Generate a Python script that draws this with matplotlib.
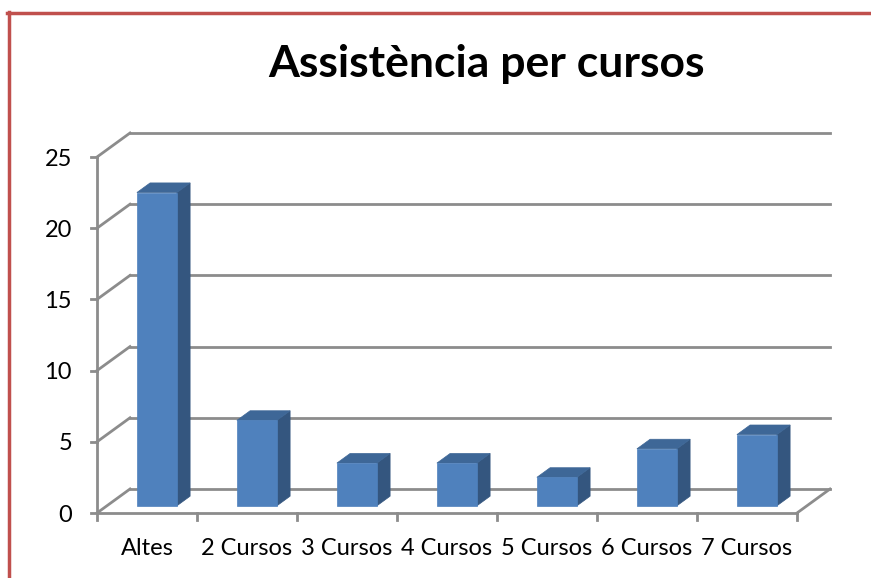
import numpy as np
import matplotlib
matplotlib.use("Agg")
import matplotlib.pyplot as plt
from matplotlib.patches import Polygon
from matplotlib.lines import Line2D
from matplotlib.transforms import IdentityTransform

# dades del gràfic
categories = ["Altes", "2 Cursos", "3 Cursos", "4 Cursos", "5 Cursos", "6 Cursos", "7 Cursos"]
values = [22, 6, 3, 3, 2, 4, 5]
yticks = [0, 5, 10, 15, 20, 25]

plt.rcParams["font.family"] = ["Lato", "DejaVu Sans"]

fig = plt.figure(figsize=(8.71, 5.78), dpi=100)
ax = fig.add_axes([97 / 871, 65 / 578, 700 / 871, 356 / 578])
ax.set_xlim(0, len(categories))
ax.set_ylim(0, 25)
for s in ax.spines.values():
    s.set_visible(False)
ax.set_xticks(np.arange(len(categories)) + 0.5, categories, fontsize=17)
ax.set_yticks(yticks, [str(t) for t in yticks], fontsize=17)
ax.tick_params(length=0)
ax.tick_params(axis="x", pad=18)
ax.tick_params(axis="y", pad=18)

# profunditat del gràfic en píxels
DX, DY = 33, 24
grid_col = "#8C8C8C"
ident = IdentityTransform()


def disp(x, y, d=0.0):
    px, py = ax.transData.transform((x, y))
    return (px + d * DX, py + d * DY)


def line(p1, p2, lw=2):
    ax.add_line(Line2D([p1[0], p2[0]], [p1[1], p2[1]], color=grid_col, lw=lw,
                       transform=ident, clip_on=False, zorder=1))


n = len(categories)
# paret del fons i paret esquerra
for t in yticks:
    line(disp(0, t, 1), disp(n, t, 1))
    line(disp(0, t, 0), disp(0, t, 1))
    # marques eix y
    a = disp(0, t)
    line((a[0] - 6, a[1]), a)
# terra
line(disp(0, 0), disp(n, 0))
line(disp(n, 0), disp(n, 0, 1))
line(disp(0, 25), disp(0, 0))
for i in range(n + 1):
    a = disp(i, 0)
    line(a, (a[0], a[1] - 7))

# barres 3D
front_c, side_c, top_c = "#4F81BD", "#34567F", "#3E6797"
d0, d1 = 0.3, 0.7
for i, v in enumerate(values):
    x0, x1 = i + 0.3, i + 0.7
    front = [disp(x0, 0, d0), disp(x1, 0, d0), disp(x1, v, d0), disp(x0, v, d0)]
    side = [disp(x1, 0, d0), disp(x1, 0, d1), disp(x1, v, d1), disp(x1, v, d0)]
    top = [disp(x0, v, d0), disp(x1, v, d0), disp(x1, v, d1), disp(x0, v, d1)]
    for pts, c in [(side, side_c), (top, top_c), (front, front_c)]:
        ax.add_patch(Polygon(pts, closed=True, facecolor=c, edgecolor=c, lw=0.5,
                             transform=ident, clip_on=False, zorder=3))

fig.text(486 / 871, 1 - 64 / 578, "Assistència per cursos", fontsize=32,
         fontweight="bold", ha="center", va="center")

# vora vermella
border = "#C0504D"
fig.add_artist(Line2D([7 / 871, 1], [1 - 13 / 578] * 2, color=border, lw=2.5,
                      transform=fig.transFigure))
fig.add_artist(Line2D([8.5 / 871] * 2, [0, 1 - 12 / 578], color=border, lw=2.5,
                      transform=fig.transFigure))

fig.savefig("out.png", dpi=100)
